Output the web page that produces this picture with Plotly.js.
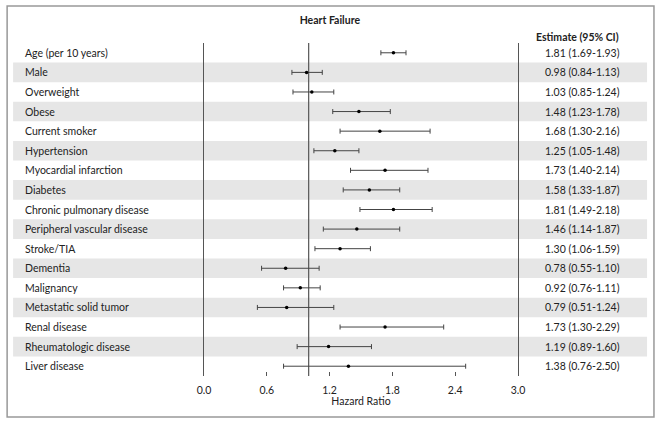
<!DOCTYPE html>
<html><head><meta charset="utf-8">
<script src="https://cdn.plot.ly/plotly-3.0.1.min.js"></script>
<style>body{margin:0;padding:0;background:#fff}#chart{width:661px;height:428px}</style>
</head><body><div id="chart"></div>
<script>
const labels = ["Age (per 10 years)","Male","Overweight","Obese","Current smoker","Hypertension","Myocardial infarction","Diabetes","Chronic pulmonary disease","Peripheral vascular disease","Stroke/TIA","Dementia","Malignancy","Metastatic solid tumor","Renal disease","Rheumatologic disease","Liver disease"];
const estimate = [1.81,0.98,1.03,1.48,1.68,1.25,1.73,1.58,1.81,1.46,1.30,0.78,0.92,0.79,1.73,1.19,1.38];
const lower = [1.69,0.84,0.85,1.23,1.30,1.05,1.40,1.33,1.49,1.14,1.06,0.55,0.76,0.51,1.30,0.89,0.76];
const upper = [1.93,1.13,1.24,1.78,2.16,1.48,2.14,1.87,2.18,1.87,1.59,1.10,1.11,1.24,2.29,1.60,2.50];
const xTicks = [0.0,0.6,1.2,1.8,2.4,3.0];
const xTickText = ["0.0","0.6","1.2","1.8","2.4","3.0"];

const FONT = "Lato, 'Liberation Sans', sans-serif";
const TXT = "#222";
const ypos = labels.map((_, i) => i);

const trace = {
  type: "scatter", mode: "markers",
  x: estimate, y: ypos,
  marker: {color: "#000", size: 3.5},
  error_x: {type: "data", symmetric: false,
    array: estimate.map((e, i) => upper[i] - e),
    arrayminus: estimate.map((e, i) => e - lower[i]),
    color: "#444", thickness: 1, width: 2.5},
  hoverinfo: "skip", showlegend: false
};

const shapes = [];
// outer border
shapes.push({type: "rect", xref: "paper", yref: "paper", x0: -0.627, x1: 1.433, y0: -0.123, y1: 1.111,
  line: {color: "#999", width: 1.5}, fillcolor: "rgba(0,0,0,0)", layer: "below"});
// bands
labels.forEach((_, i) => {
  if (i % 2 === 1) shapes.push({type: "rect", xref: "paper", yref: "y", x0: -0.608, x1: 1.411,
    y0: i - 0.5, y1: i + 0.5, fillcolor: "#e6e6e6", line: {width: 0}, layer: "below"});
});
// reference line at 1
shapes.push({type: "line", xref: "x", yref: "paper", x0: 1, x1: 1, y0: 0, y1: 1,
  line: {color: "#555", width: 1.2}, layer: "below"});

const annotations = [];
labels.forEach((lab, i) => {
  annotations.push({xref: "paper", yref: "y", x: -0.576, y: i, text: lab, showarrow: false,
    xanchor: "left", yanchor: "middle", font: {family: FONT, size: 10.5, color: TXT}});
  annotations.push({xref: "paper", yref: "y", x: 1.205, y: i,
    text: estimate[i].toFixed(2) + " (" + lower[i].toFixed(2) + "-" + upper[i].toFixed(2) + ")",
    showarrow: false, xanchor: "center", yanchor: "middle", font: {family: FONT, size: 10.5, color: TXT}});
});
annotations.push({xref: "paper", yref: "paper", x: 1.19, y: 1.018, text: "<b>Estimate (95% CI)</b>",
  showarrow: false, xanchor: "center", yanchor: "middle", font: {family: FONT, size: 10.5, color: TXT}});

const layout = {
  width: 661, height: 428,
  margin: {l: 204, r: 143, t: 43, b: 52},
  paper_bgcolor: "#fff", plot_bgcolor: "rgba(0,0,0,0)",
  title: {text: "<b>Heart Failure</b>", x: 0.499, xref: "container", xanchor: "center",
    y: 1 - 20/428, yref: "container", yanchor: "middle", font: {family: FONT, size: 10.5, color: TXT}},
  xaxis: {range: [0, 3], tickvals: xTicks, ticktext: xTickText, showgrid: false, zeroline: false,
    showline: false, ticks: "inside", ticklen: 4, tickcolor: "#555", tickwidth: 1,
    ticklabelstandoff: 6,
    tickfont: {family: FONT, size: 10.5, color: TXT},
    title: {text: "Hazard Ratio", font: {family: FONT, size: 10.5, color: TXT}, standoff: 0}},
  yaxis: {range: [16.5, -0.5], showticklabels: false, showgrid: false, zeroline: false,
    showline: true, mirror: true, linecolor: "#555", linewidth: 1.2, ticks: ""},
  shapes: shapes, annotations: annotations
};
Plotly.newPlot("chart", [trace], layout, {displayModeBar: false, staticPlot: true});
</script></body></html>
